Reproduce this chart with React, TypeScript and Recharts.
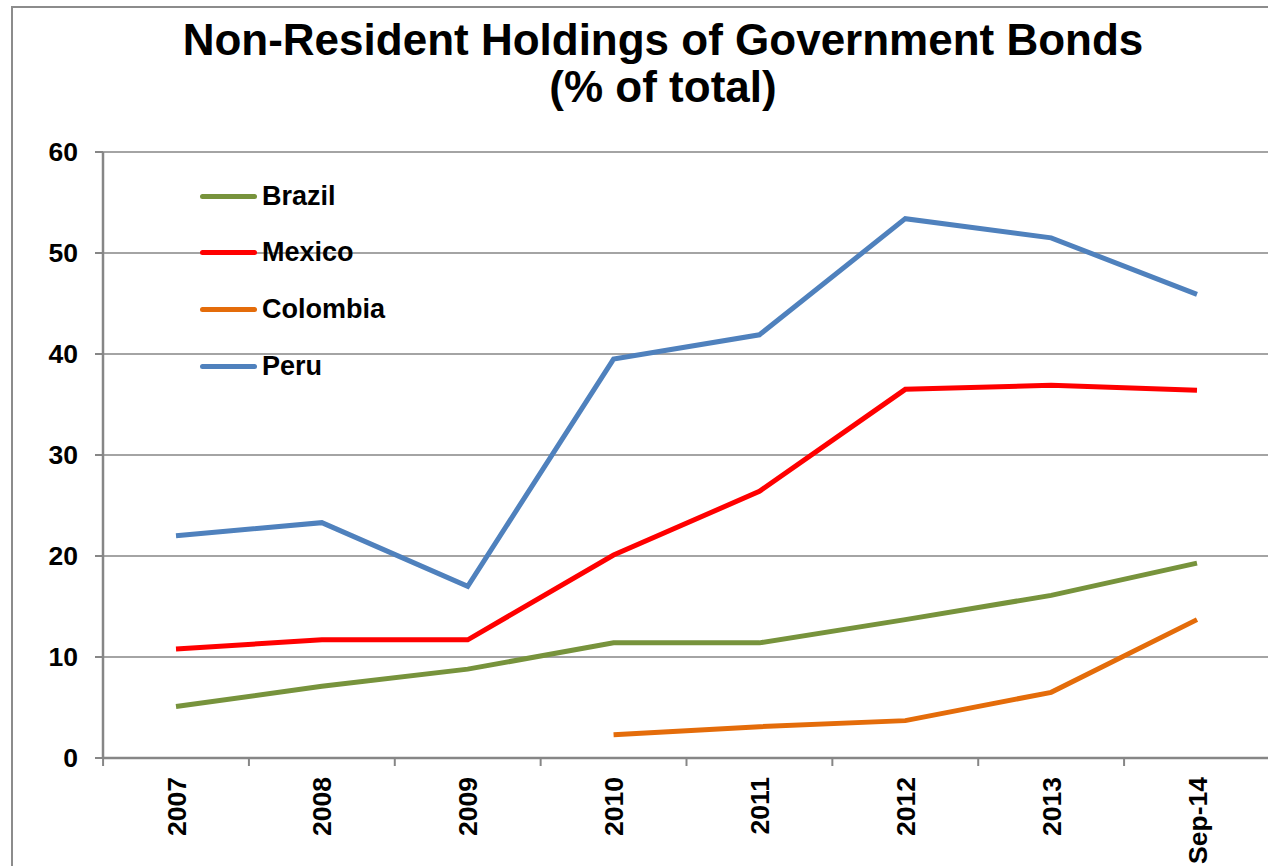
import React from 'react';
import { LineChart, Line, XAxis, YAxis, CartesianGrid } from 'recharts';

const periods = ['2007', '2008', '2009', '2010', '2011', '2012', '2013', 'Sep-14'];
const brazil = [5.1, 7.1, 8.8, 11.4, 11.4, 13.7, 16.1, 19.3];
const mexico = [10.8, 11.7, 11.7, 20.1, 26.4, 36.5, 36.9, 36.4];
const colombia = [null, null, null, 2.3, 3.1, 3.7, 6.5, 13.7];
const peru = [22.0, 23.3, 17.0, 39.5, 41.9, 53.4, 51.5, 45.9];
const yTicks = [0, 10, 20, 30, 40, 50, 60];

const data = periods.map((p, i) => ({
  period: p,
  Brazil: brazil[i],
  Mexico: mexico[i],
  Colombia: colombia[i],
  Peru: peru[i],
}));

const series = [
  { key: 'Brazil', color: '#77933C' },
  { key: 'Mexico', color: '#FF0000' },
  { key: 'Colombia', color: '#E46C0A' },
  { key: 'Peru', color: '#4F81BD' },
];

const FONT = '"Liberation Sans", Arial, sans-serif';
const GRID = '#868686';

// plot geometry (plot runs a little past the right edge of the page, like the source)
const CHART_W = 1280;
const CHART_H = 866;
const MARGIN = { top: 152, right: 10, bottom: 8, left: 8 };
const Y_W = 95;
const PAD = 73;
const plotW = CHART_W - MARGIN.left - MARGIN.right - Y_W;
const half = (plotW - 2 * PAD) / (periods.length - 1) / 2;

const XTick = (props: any) => {
  const { x, y, payload, index } = props;
  const axisY = y - 19;
  return (
    <g>
      <line x1={x - half} y1={axisY} x2={x - half} y2={axisY + 8} stroke={GRID} strokeWidth={2} />
      {index === periods.length - 1 && (
        <line x1={x + half} y1={axisY} x2={x + half} y2={axisY + 8} stroke={GRID} strokeWidth={2} />
      )}
      <g transform={`translate(${x},${y}) rotate(-90)`}>
        <text textAnchor="end" dy="0.36em" fontSize={26.5} fontWeight="bold" fontFamily={FONT} fill="#000">
          {payload.value}
        </text>
      </g>
    </g>
  );
};

// legend drawn inside the plot, in series order
const LegendBox = () => (
  <div style={{ position: 'absolute', left: 200, top: 168, fontFamily: FONT }}>
    {series.map((s) => (
      <div key={s.key} style={{ display: 'flex', alignItems: 'center', height: 56.6 }}>
        <div style={{ width: 57, height: 5, borderRadius: 3, background: s.color, marginRight: 5 }} />
        <span style={{ fontSize: 27, fontWeight: 'bold', color: '#000' }}>{s.key}</span>
      </div>
    ))}
  </div>
);

export default function App() {
  return (
    <div style={{ position: 'fixed', left: 0, top: 0, width: 1268, height: 866, overflow: 'hidden', background: '#fff' }}>
      <div style={{ position: 'absolute', left: 11, top: 6, width: 1400, height: 1000, border: '2px solid #8c8c8c' }} />
      <div
        style={{
          position: 'absolute', left: 0, top: 16, width: 1326, textAlign: 'center',
          fontFamily: FONT, fontWeight: 'bold', fontSize: 44, lineHeight: '47px', color: '#000',
        }}
      >
        Non-Resident Holdings of Government Bonds
        <br />
        (% of total)
      </div>
      <div style={{ position: 'absolute', left: 0, top: 0 }}>
        <LineChart width={CHART_W} height={CHART_H} data={data} margin={MARGIN}>
          <CartesianGrid vertical={false} stroke={GRID} strokeWidth={1.5} />
          <XAxis
            dataKey="period"
            height={100}
            padding={{ left: PAD, right: PAD }}
            axisLine={{ stroke: GRID, strokeWidth: 2.5 }}
            tickLine={false}
            tickSize={8}
            tickMargin={11}
            interval={0}
            tick={<XTick />}
          />
          <YAxis
            width={Y_W}
            domain={[0, 60]}
            ticks={yTicks}
            axisLine={{ stroke: GRID, strokeWidth: 2.5 }}
            tickLine={{ stroke: GRID, strokeWidth: 2 }}
            tickSize={8}
            tickMargin={17}
            tick={{ fontSize: 26.5, fontWeight: 'bold', fontFamily: FONT, fill: '#000' }}
          />
          {series.map((s) => (
            <Line
              key={s.key}
              type="linear"
              dataKey={s.key}
              stroke={s.color}
              strokeWidth={5}
              dot={false}
              activeDot={false}
              isAnimationActive={false}
            />
          ))}
        </LineChart>
      </div>
      <LegendBox />
    </div>
  );
}
